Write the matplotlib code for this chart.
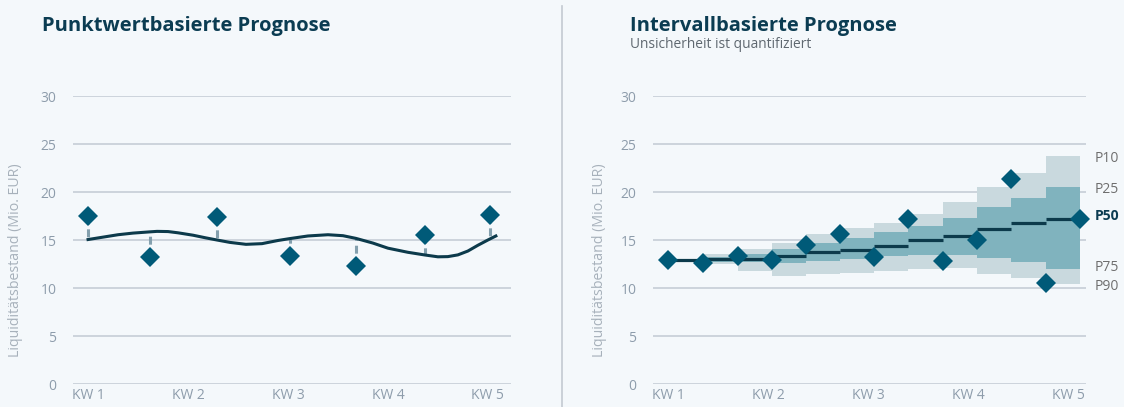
import matplotlib.pyplot as plt
from matplotlib.lines import Line2D

# point forecast panel: actual values and smooth forecast curve (x in weeks from KW 1)
point_x = [0.0, 0.62, 1.29, 2.02, 2.68, 3.37, 4.02]
point_actual = [17.5, 13.2, 17.4, 13.3, 12.3, 15.5, 17.6]
point_forecast = [15.05, 15.85, 15.0, 15.15, 15.17, 13.44, 15.3]

curve_x = [0.0, 0.15, 0.3, 0.45, 0.62, 0.69, 0.8, 0.9, 1.05, 1.18, 1.29, 1.42, 1.58,
           1.74, 1.9, 2.02, 2.2, 2.4, 2.55, 2.68, 2.85, 3.0, 3.2, 3.37, 3.5, 3.6,
           3.7, 3.8, 3.9, 4.0, 4.08]
curve_y = [15.05, 15.3, 15.55, 15.72, 15.85, 15.9, 15.88, 15.75, 15.5, 15.22, 15.0,
           14.75, 14.55, 14.62, 14.95, 15.15, 15.42, 15.55, 15.45, 15.17, 14.68, 14.15,
           13.72, 13.44, 13.25, 13.27, 13.45, 13.85, 14.45, 15.0, 15.42]

# interval forecast panel
iv_x = [0.0, 0.35, 0.70, 1.04, 1.38, 1.72, 2.06, 2.40, 2.75, 3.09, 3.43, 3.78, 4.12]
iv_actual = [12.9, 12.6, 13.3, 12.9, 14.5, 15.6, 13.2, 17.2, 12.85, 15.0, 21.4, 10.55, 17.15]
# quantiles per segment (segment i spans iv_x[i]..iv_x[i+1])
p10 = [12.9, 13.5, 14.1, 14.7, 15.6, 16.2, 16.8, 17.7, 19.0, 20.5, 22.0, 23.7]
p25 = [12.9, 13.2, 13.5, 14.1, 14.7, 15.2, 15.8, 16.45, 17.25, 18.4, 19.4, 20.5]
p50 = [12.9, 13.0, 13.0, 13.3, 13.75, 14.0, 14.4, 15.05, 15.45, 16.15, 16.75, 17.2]
p75 = [12.9, 12.7, 12.7, 12.6, 12.85, 13.05, 13.3, 13.4, 13.45, 13.1, 12.75, 12.0]
p90 = [12.9, 12.5, 11.8, 11.3, 11.45, 11.6, 11.75, 12.0, 12.05, 11.5, 11.0, 10.4]
q_labels = ['P10', 'P25', 'P50', 'P75', 'P90']
q_label_y = [23.5, 20.3, 17.5, 12.1, 10.2]

weeks = [0, 1, 2, 3, 4]
week_labels = ['KW 1', 'KW 2', 'KW 3', 'KW 4', 'KW 5']
yticks = [0, 5, 10, 15, 20, 25, 30]

bg = '#f4f8fb'
title_col = '#0b3c52'
diamond_col = '#005a78'
line_col = '#0c3a4b'
grid_col = '#c9d1d9'
tick_col = '#8d9cab'
light_band = '#c9d9de'
dark_band = '#80b3be'

plt.rcParams['font.family'] = ['Open Sans', 'DejaVu Sans']

fig = plt.figure(figsize=(11.24, 4.07), dpi=100, facecolor=bg)


def style_axes(ax, xmax, label_x):
    ax.set_facecolor(bg)
    ax.set_ylim(0, 30)
    ax.set_xlim(-0.15, xmax)
    ax.set_yticks(yticks)
    ax.set_xticks(weeks)
    ax.set_xticklabels(week_labels)
    ax.grid(axis='y', color=grid_col, linewidth=1.3)
    ax.set_axisbelow(True)
    for s in ax.spines.values():
        s.set_visible(False)
    ax.tick_params(length=0, labelsize=10, colors=tick_col)
    ax.tick_params(axis='y', pad=12)
    ax.tick_params(axis='x', pad=3)
    ax.set_ylabel('Liquiditätsbestand (Mio. EUR)', color='#a7b1bb', fontsize=10.2)
    ax.yaxis.set_label_coords(label_x, 0.43)


# left: point forecast
ax1 = fig.add_axes([0.065, 0.0565, 0.3895, 0.7076])
style_axes(ax1, 4.23, -0.114)
for x, a, f in zip(point_x, point_actual, point_forecast):
    ax1.plot([x, x], [a, f], color='#84a0ae', linewidth=2.2, dashes=(2.6, 1.6),
             zorder=2)
ax1.plot(curve_x, curve_y, color=line_col, linewidth=2.2, zorder=3)
ax1.plot(point_x, point_actual, 'D', color=diamond_col, markersize=10,
         markeredgewidth=0, zorder=4, clip_on=False)
fig.text(0.0375, 0.925, 'Punktwertbasierte Prognose', fontsize=14.5,
         fontweight='bold', color=title_col)

# right: interval forecast
ax2 = fig.add_axes([0.581, 0.0565, 0.3855, 0.7076])
style_axes(ax2, 4.18, -0.106)
for i in range(len(p50)):
    x0, x1 = iv_x[i], iv_x[i + 1]
    w = x1 - x0
    ax2.bar(x0, p10[i] - p90[i], width=w, bottom=p90[i], align='edge',
            color=light_band, linewidth=0, zorder=1)
    ax2.bar(x0, p25[i] - p75[i], width=w, bottom=p75[i], align='edge',
            color=dark_band, linewidth=0, zorder=2)
    ax2.plot([x0, x1], [p50[i], p50[i]], color=line_col, linewidth=2.3,
             solid_capstyle='butt', zorder=3)
ax2.plot(iv_x, iv_actual, 'D', color=diamond_col, markersize=10,
         markeredgewidth=0, zorder=4, clip_on=False)
for lab, y in zip(q_labels, q_label_y):
    ax2.text(4.26, y, lab, fontsize=10, va='center', ha='left',
             color=title_col if lab == 'P50' else '#6e6e6e',
             fontweight='bold' if lab == 'P50' else 'normal', clip_on=False)
fig.text(0.5605, 0.925, 'Intervallbasierte Prognose', fontsize=14.5,
         fontweight='bold', color=title_col)
fig.text(0.5605, 0.882, 'Unsicherheit ist quantifiziert', fontsize=9.9,
         color='#5f6870')

# panel separator
fig.add_artist(Line2D([0.5, 0.5], [0.0, 0.985], color='#c3cad1', linewidth=1.2))

fig.savefig('out.png', dpi=100, facecolor=bg)
